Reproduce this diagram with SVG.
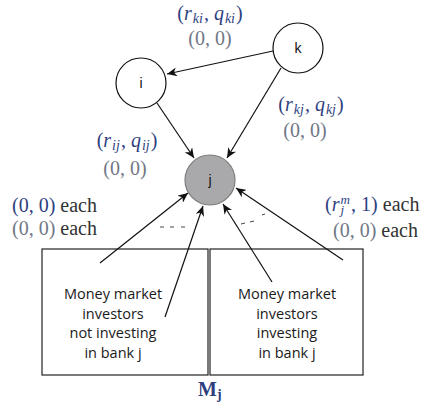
<svg xmlns="http://www.w3.org/2000/svg" width="424" height="408" viewBox="0 0 424 408">
<style>
.node{fill:#fff;stroke:#111;stroke-width:1.2}
.nodeg{fill:#a9a9ab;stroke:#7c7c7c;stroke-width:1.2}
.lbl{font-family:"Liberation Sans",Arial,sans-serif;font-size:14px;fill:#111;text-anchor:middle}
.box{fill:none;stroke:#222;stroke-width:1.2}
.bt{font-family:"Open Sans","Liberation Sans",sans-serif;font-size:14.5px;fill:#1a1a1a;text-anchor:middle}
.edge{stroke:#111;stroke-width:1.2;fill:none;marker-end:url(#ah)}
.dash{stroke:#444;stroke-width:1}
.m{font-family:"Liberation Serif","DejaVu Serif","Times New Roman",serif;font-size:20px}
.it{font-style:italic}
.s{font-size:14px}
.ss{font-size:13px}
.navy{fill:#2f3f7f}
.gray{fill:#717786}
.blk{fill:#333}
</style>
<defs>
<marker id="ah" markerWidth="11" markerHeight="9" refX="10" refY="4.5" orient="auto" markerUnits="userSpaceOnUse">
<path d="M0,0 L10,4.5 L0,9 L3,4.5 z" fill="#111"/>
</marker>
</defs>
<g id="node-Mj">
<rect class="box" x="42" y="249" width="166" height="126"/>
<rect class="box" x="210" y="249" width="153" height="126"/>
<text class="bt" x="113" y="299">Money market</text>
<text class="bt" x="113" y="318.5">investors</text>
<text class="bt" x="113" y="338">not investing</text>
<text class="bt" x="113" y="357.5">in bank j</text>
<text class="bt" x="287" y="299">Money market</text>
<text class="bt" x="287" y="318.5">investors</text>
<text class="bt" x="287" y="338">investing</text>
<text class="bt" x="287" y="357.5">in bank j</text>
<text class="m navy" x="198" y="396" font-size="22" font-weight="bold">M<tspan class="s" dy="3">j</tspan></text>
</g>
<g id="connectors">
<line class="edge" x1="273" y1="51" x2="167" y2="74"/>
<line class="edge" x1="157" y1="103" x2="194" y2="158"/>
<line class="edge" x1="281" y1="68" x2="227" y2="158"/>
<line class="edge" x1="100" y1="263" x2="188" y2="193"/>
<line class="edge" x1="165" y1="317" x2="203" y2="206"/>
<line class="edge" x1="272" y1="282" x2="223" y2="204"/>
<line class="edge" x1="343" y1="260" x2="236" y2="188"/>
<line class="dash" x1="160" y1="227" x2="164" y2="227"/>
<line class="dash" x1="170" y1="227" x2="174" y2="227"/>
<line class="dash" x1="181" y1="227" x2="185" y2="227"/>
<line class="dash" x1="241" y1="224" x2="245" y2="223"/>
<line class="dash" x1="250" y1="222" x2="254" y2="221"/>
<line class="dash" x1="262" y1="215" x2="265" y2="214"/>
</g>
<g id="node-k">
<circle class="node" cx="298" cy="48" r="25"/>
<text class="lbl" x="298" y="53">k</text>
</g>
<g id="node-i">
<circle class="node" cx="141" cy="83" r="25"/>
<text class="lbl" x="141" y="88">i</text>
</g>
<g id="node-j">
<circle class="nodeg" cx="210" cy="180" r="25"/>
<text class="lbl" x="210" y="185">j</text>
</g>
<g id="labels">
<text class="m navy" x="210" y="20" text-anchor="middle">(<tspan class="it">r</tspan><tspan class="it s" dx="1" dy="3">ki</tspan><tspan dx="1" dy="-3">, </tspan><tspan class="it">q</tspan><tspan class="it s" dx="1" dy="3">ki</tspan><tspan dx="1" dy="-3">)</tspan></text>
<text class="m gray" x="210" y="45" text-anchor="middle">(0, 0)</text>
<text class="m navy" x="311" y="111" text-anchor="middle">(<tspan class="it">r</tspan><tspan class="it s" dx="1" dy="3">kj</tspan><tspan dx="1" dy="-3">, </tspan><tspan class="it">q</tspan><tspan class="it s" dx="1" dy="3">kj</tspan><tspan dx="1" dy="-3">)</tspan></text>
<text class="m gray" x="305" y="137" text-anchor="middle">(0, 0)</text>
<text class="m navy" x="127" y="147" text-anchor="middle">(<tspan class="it">r</tspan><tspan class="it s" dx="1" dy="3">ij</tspan><tspan dx="1" dy="-3">, </tspan><tspan class="it">q</tspan><tspan class="it s" dx="1" dy="3">ij</tspan><tspan dx="1" dy="-3">)</tspan></text>
<text class="m gray" x="125" y="175" text-anchor="middle">(0, 0)</text>
<text class="m" x="12" y="212"><tspan class="navy">(0, 0)</tspan><tspan class="blk"> each</tspan></text>
<text class="m" x="12" y="235"><tspan class="gray">(0, 0)</tspan><tspan class="blk"> each</tspan></text>
<text class="m" x="325" y="211"><tspan class="navy">(<tspan class="it">r</tspan><tspan class="it ss" dx="1" dy="-7">m</tspan><tspan class="it ss" dx="-9.4" dy="10">j</tspan><tspan dx="7" dy="-3">, 1)</tspan></tspan><tspan class="blk"> each</tspan></text>
<text class="m" x="333" y="237"><tspan class="gray">(0, 0)</tspan><tspan class="blk"> each</tspan></text>
</g>
</svg>
